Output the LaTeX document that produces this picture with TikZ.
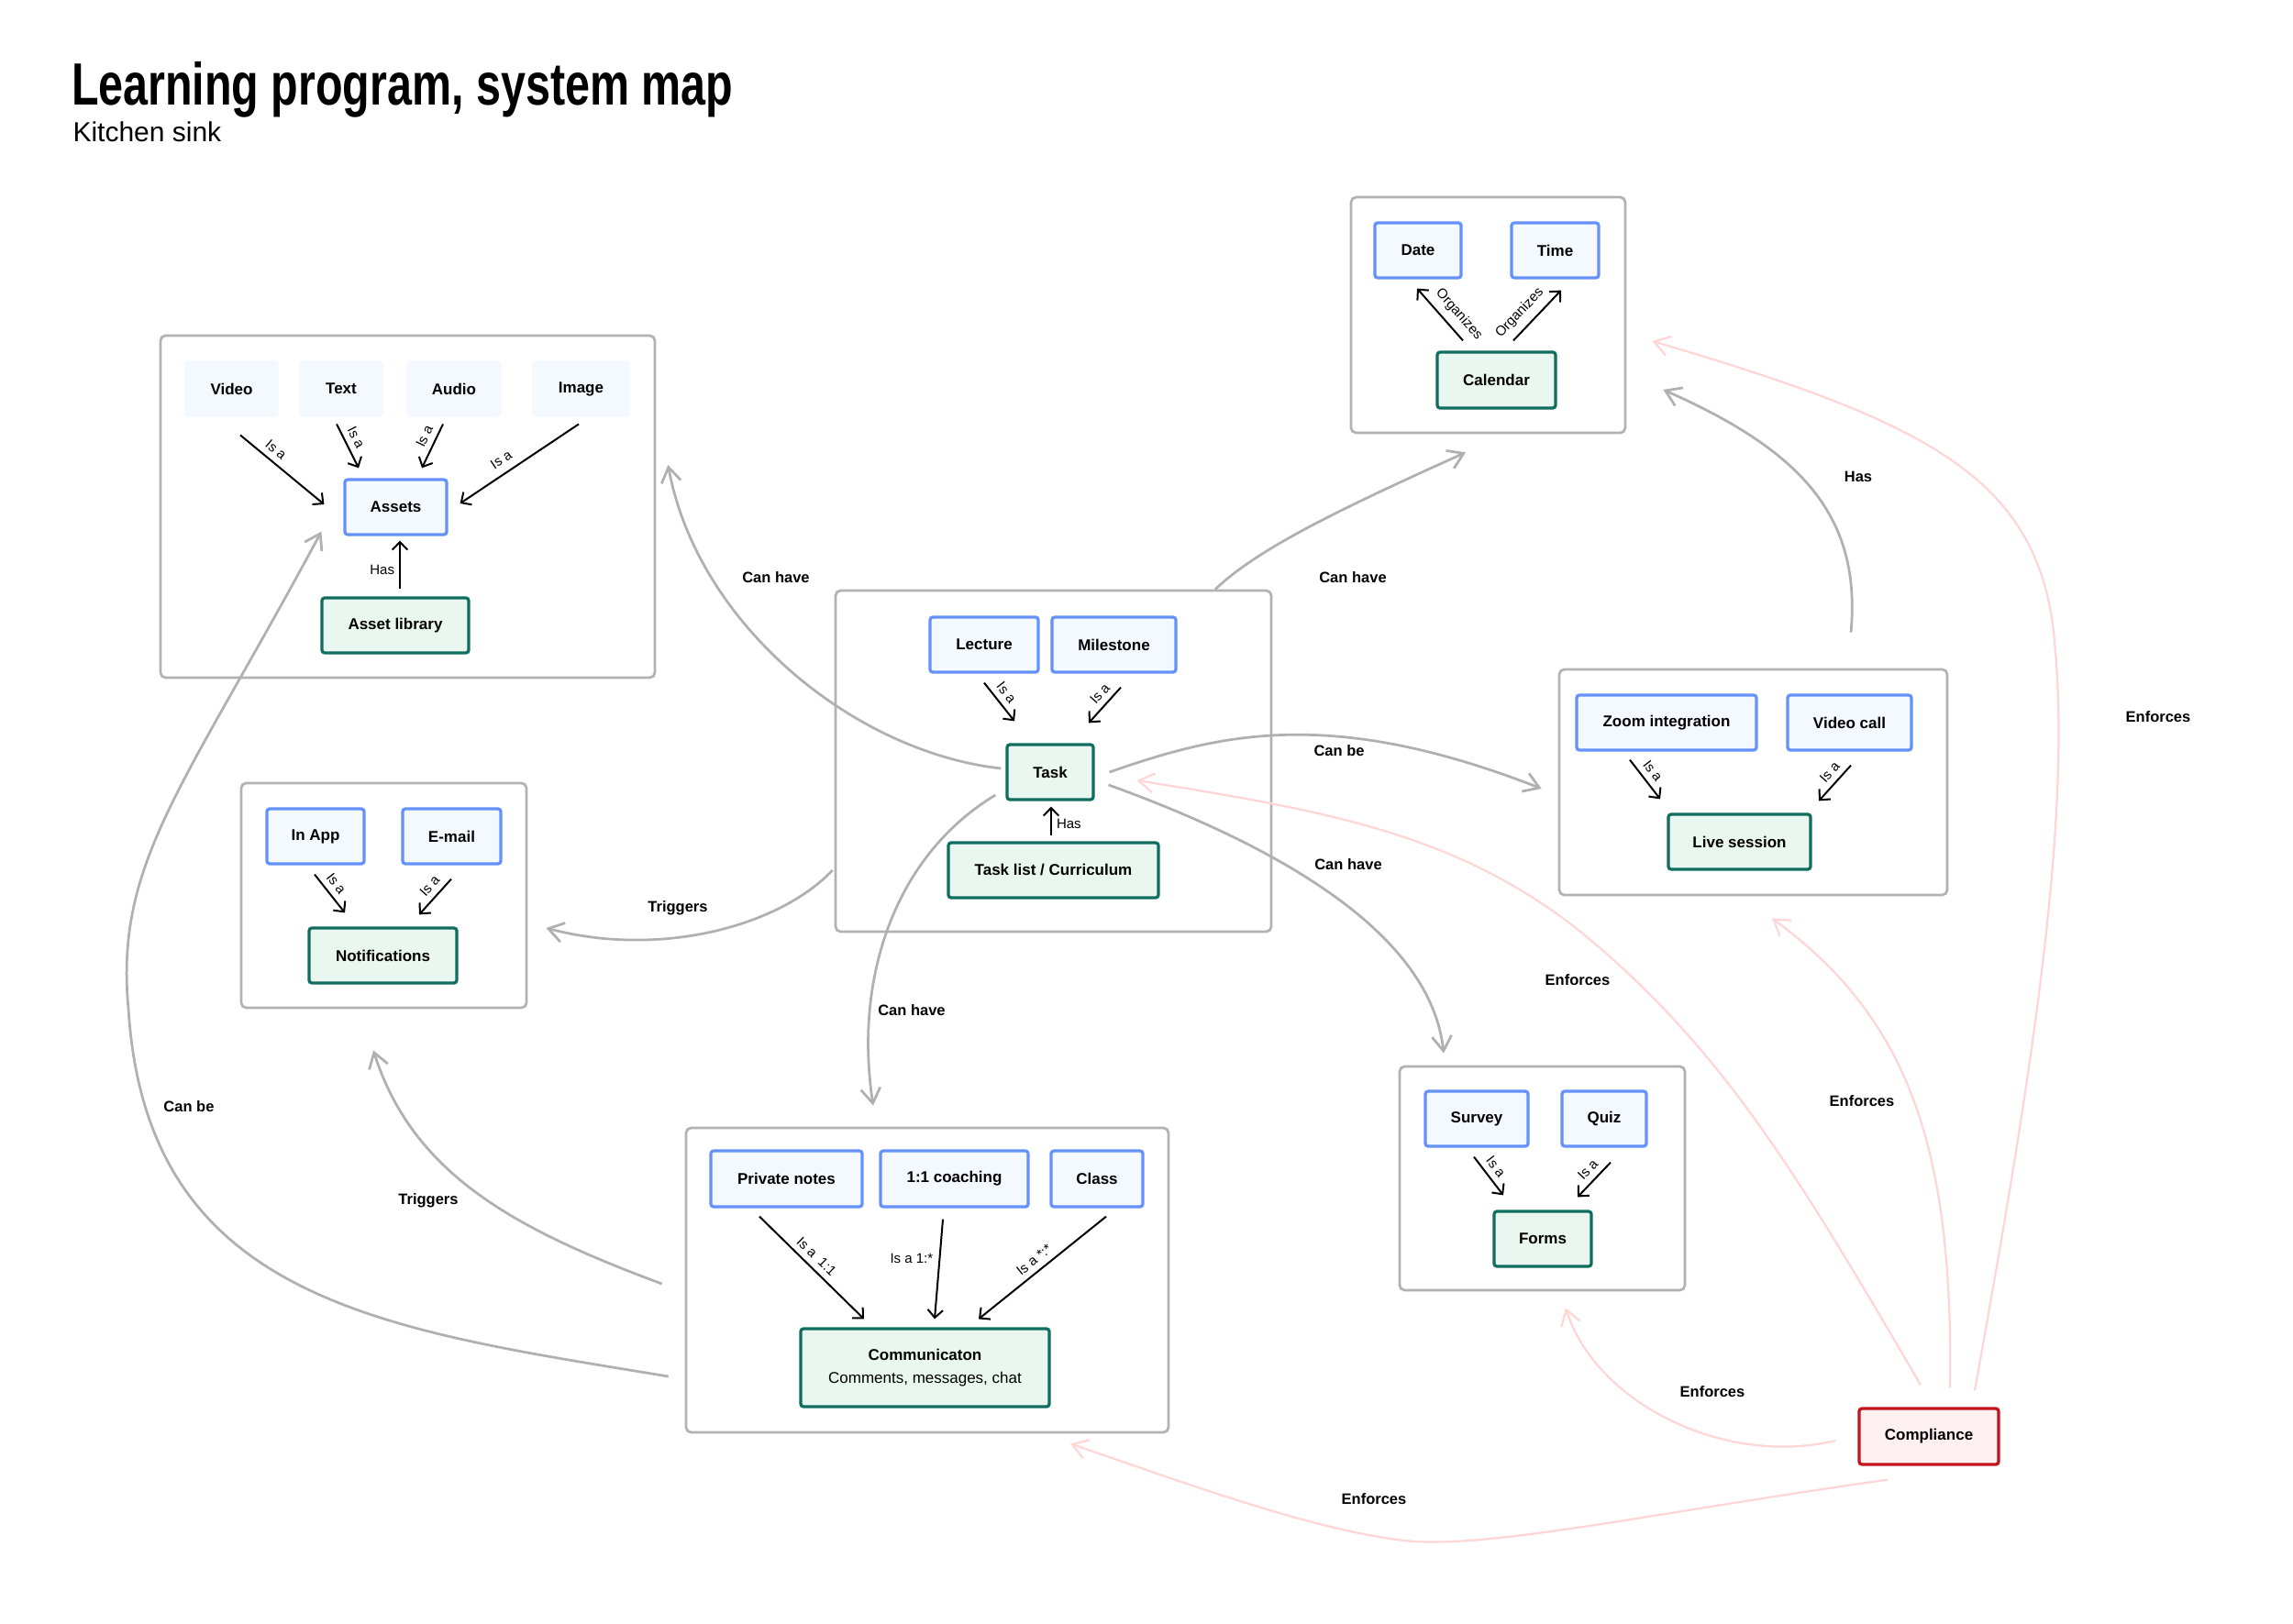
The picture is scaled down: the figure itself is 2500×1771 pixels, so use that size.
\documentclass[tikz,border=0pt]{standalone}
\usepackage{fontspec}
\setmainfont{Liberation Sans}
\newfontfamily\titlefont[FakeStretch=0.745]{Liberation Sans}
\usetikzlibrary{arrows.meta,calc}
\definecolor{grpc}{RGB}{178,178,178}
\definecolor{linec}{RGB}{176,176,176}
\definecolor{bluec}{RGB}{100,145,250}
\definecolor{bluef}{RGB}{244,248,255}
\definecolor{greenc}{RGB}{15,110,95}
\definecolor{greenf}{RGB}{233,247,240}
\definecolor{redc}{RGB}{195,20,30}
\definecolor{redf}{RGB}{255,241,241}
\definecolor{pinkc}{RGB}{255,214,214}
\tikzset{
  sz/.style 2 args={minimum width=#1*0.4pt, minimum height=#2*0.4pt},
  grp/.style={draw=grpc, line width=1.1pt, rounded corners=2.2pt, fill=white, inner sep=0pt},
  boxfont/.style={font=\bfseries\fontsize{6.8pt}{10pt}\selectfont},
  mbox/.style={fill=bluef, rounded corners=2pt, inner sep=0pt, boxfont},
  bbox/.style={draw=bluec, fill=bluef, line width=1.3pt, rounded corners=1.2pt, inner sep=0pt, boxfont},
  gbox/.style={draw=greenc, fill=greenf, line width=1.3pt, rounded corners=1.2pt, inner sep=0pt, boxfont},
  rbox/.style={draw=redc, fill=redf, line width=1.3pt, rounded corners=1.2pt, inner sep=0pt, boxfont},
  isa/.style={draw=black, line width=0.8pt, -{Straight Barb[length=3.4pt,width=6.6pt]}},
  lab/.style={font=\fontsize{6pt}{7pt}\selectfont, inner sep=1pt},
  conn/.style={draw=linec, line width=1.1pt, -{Straight Barb[length=6.5pt,width=8.5pt]}},
  enf/.style={draw=pinkc, line width=0.9pt, -{Straight Barb[length=6.5pt,width=8.5pt]}},
  clab/.style={font=\bfseries\fontsize{6.6pt}{8pt}\selectfont, inner sep=0pt},
}
\begin{document}
\begin{tikzpicture}[x=0.4pt,y=-0.4pt]
\useasboundingbox (0,0) rectangle (2500,1771);
\fill[white] (0,0) rectangle (2500,1771);

% titles
\node[anchor=base west, inner sep=0pt, font=\titlefont\bfseries\fontsize{26pt}{30pt}\selectfont] (title) at (77.5,115) {Learning program, system map};
\node[anchor=base west, inner sep=0pt, font=\fontsize{12pt}{14pt}\selectfont] (subtitle) at (79,155) {Kitchen sink};

% groups
\node[grp, sz={539}{373}] (gA) at (444.5,552.5) {};
\node[grp, sz={299}{257}] (gC) at (1622.5,343.5) {};
\node[grp, sz={475}{372}] (gT) at (1148.5,830) {};
\node[grp, sz={423}{246}] (gL) at (1911.5,853) {};
\node[grp, sz={311}{245}] (gN) at (418.5,976.5) {};
\node[grp, sz={526}{332}] (gM) at (1011,1396) {};
\node[grp, sz={311}{244}] (gF) at (1681.5,1285) {};

% assets group
\node[mbox, sz={103}{62}] (video) at (252.5,424) {Video};
\node[mbox, sz={92}{62}] (text) at (372,424) {Text};
\node[mbox, sz={104}{62}] (audio) at (495,424) {Audio};
\node[mbox, sz={107}{62}] (image) at (633.5,424) {Image};
\node[bbox, sz={111}{60}] (assets) at (431.5,553) {Assets};
\node[gbox, sz={160}{60}] (assetlib) at (431,682) {Asset library};

\draw[isa] ($(video.south)+(9.5,19)$) -- node[lab, above=1.5pt, sloped, pos=0.34] (l1) {Is a} ($(assets.west)+(-21,-3)$);
\draw[isa] ($(text.south)+(-5,7)$) -- node[lab, above=1.5pt, sloped, pos=0.42] (l2) {Is a} ($(assets.north)+(-40.5,-11)$);
\draw[isa] ($(audio.south)+(-12,7)$) -- node[lab, above=1.5pt, sloped, pos=0.39] (l3) {Is a} ($(assets.north)+(28.5,-11)$);
\draw[isa] ($(image.south)+(-2.5,7)$) -- node[lab, above=2.5pt, sloped, pos=0.59] (l4) {Is a} ($(assets.east)+(13,-4)$);
\draw[isa] ($(assetlib.north)+(5,-8)$) -- node[lab, left=1pt, pos=0.39] (l5) {Has} ($(assets.south)+(4.5,5)$);

% calendar group
\node[bbox, sz={94}{60}] (date) at (1546,273) {Date};
\node[bbox, sz={95}{60}] (time) at (1695.5,273) {Time};
\node[gbox, sz={129}{61}] (calendar) at (1631.5,414.5) {Calendar};
\draw[isa] ($(calendar.north)+(-36.5,-11)$) -- node[lab, above=2pt, sloped, pos=0.32] (l6) {Organizes} ($(date.south)+(-1,10)$);
\draw[isa] ($(calendar.north)+(18.5,-11)$) -- node[lab, above=2pt, sloped, pos=0.35] (l7) {Organizes} ($(time.south)+(6.5,12)$);

% task group
\node[bbox, sz={118}{60}] (lecture) at (1073,703) {Lecture};
\node[bbox, sz={135}{60}] (milestone) at (1214.5,703) {Milestone};
\node[gbox, sz={94}{60}] (task) at (1145,842) {Task};
\node[gbox, sz={229}{60}] (tasklist) at (1148.5,949) {Task list / Curriculum};
\draw[isa] ($(lecture.south)+(0,10)$) -- node[lab, above=1.5pt, sloped, pos=0.44] (l8) {Is a} ($(task.north)+(-39,-24)$);
\draw[isa] ($(milestone.south)+(7.5,15)$) -- node[lab, above=1.5pt, sloped, pos=0.39] (l9) {Is a} ($(task.north)+(42,-22)$);
\draw[isa] ($(tasklist.north)+(-2.5,-6)$) -- node[lab, right=1pt, pos=0.4] (l10) {Has} ($(task.south)+(1,6)$);

% live session group
\node[bbox, sz={196}{60}] (zoomint) at (1817,788) {Zoom integration};
\node[bbox, sz={135}{60}] (videocall) at (2016.5,788) {Video call};
\node[gbox, sz={155}{60}] (live) at (1896.5,918) {Live session};
\draw[isa] ($(zoomint.south)+(-40,9)$) -- node[lab, above=1.5pt, sloped, pos=0.46] (l11) {Is a} ($(live.north)+(-86.5,-15)$);
\draw[isa] ($(videocall.south)+(1.5,15)$) -- node[lab, above=1.5pt, sloped, pos=0.4] (l12) {Is a} ($(live.north)+(86.5,-13)$);

% notifications group
\node[bbox, sz={106}{60}] (inapp) at (344,912) {In App};
\node[bbox, sz={107}{60}] (email) at (492.5,912) {E-mail};
\node[gbox, sz={161}{60}] (notif) at (417.5,1042) {Notifications};
\draw[isa] ($(inapp.south)+(-1,10)$) -- node[lab, above=1.5pt, sloped, pos=0.42] (l13) {Is a} ($(notif.north)+(-41.5,-15)$);
\draw[isa] ($(email.south)+(-0.5,15)$) -- node[lab, above=1.5pt, sloped, pos=0.41] (l14) {Is a} ($(notif.north)+(39.5,-13)$);

% communication group
\node[bbox, sz={165}{61}] (pnotes) at (857.5,1285.5) {Private notes};
\node[bbox, sz={161}{61}] (coaching) at (1040.5,1285.5) {1:1 coaching};
\node[bbox, sz={100}{61}] (class) at (1196,1285.5) {Class};
\node[gbox, sz={271}{85}, align=center] (comm) at (1008.5,1491.5) {Communicaton\\{\mdseries Comments, messages, chat}};
\draw[isa] ($(pnotes.south)+(-29.5,9)$) -- node[lab, above=1.5pt, sloped, pos=0.47] (l15) {Is a\ \ 1:1} ($(comm.north)+(-66.5,-9)$);
\draw[isa] ($(coaching.south)+(-12.5,12)$) -- node[lab, left=1.5pt, pos=0.39] (l16) {Is a 1:*} ($(comm.north)+(10.5,-9)$);
\draw[isa] ($(class.south)+(10,9)$) -- node[lab, above=1.5pt, sloped, pos=0.51] (l17) {Is a *:*} ($(comm.north)+(58.5,-9)$);

% forms group
\node[bbox, sz={112}{60}] (survey) at (1610,1220) {Survey};
\node[bbox, sz={92}{60}] (quiz) at (1749,1220) {Quiz};
\node[gbox, sz={106}{60}] (forms) at (1682,1351) {Forms};
\draw[isa] ($(survey.south)+(-3,10)$) -- node[lab, above=1.5pt, sloped, pos=0.44] (l18) {Is a} ($(forms.north)+(-43,-16)$);
\draw[isa] ($(quiz.south)+(7,16)$) -- node[lab, above=1.5pt, sloped, pos=0.44] (l19) {Is a} ($(forms.north)+(38,-14)$);

% compliance
\node[rbox, sz={152}{61}] (comp) at (2103,1566.5) {Compliance};

% gray connectors
\draw[conn] ($(task.west)+(-5,-4)$) .. controls (930,820) and (760,680) .. ($(gA.east)+(13,-45.5)$);
\draw[conn] ($(gT.north)+(176.5,0)$) .. controls (1370,600) and (1450,560) .. ($(gC.south)+(-24.5,20)$);
\draw[conn] ($(task.east)+(16,0)$) .. controls (1330,800) and (1450,770) .. ($(gL.west)+(-18,7)$);
\draw[conn] ($(task.east)+(15,14)$) .. controls (1400,925) and (1560,1020) .. ($(gF.north)+(-107.5,-13)$);
\draw[conn] ($(gT.west)+(-2,119)$) .. controls (850,1010) and (720,1045) .. ($(gN.east)+(20,35.5)$);
\draw[conn] ($(task.west)+(-11,25)$) .. controls (980,930) and (930,1060) .. ($(gM.north)+(-59,-23)$);
\draw[conn] ($(gM.west)+(-25,4)$) .. controls (560,1340) and (450,1280) .. ($(gN.south)+(-11.5,45)$);
\draw[conn] ($(gM.west)+(-18,105)$) .. controls (420,1450) and (160,1420) .. (140,1100) .. controls (125,940) and (200,860) .. ($(assets.south west)+(-24,-5)$);
\draw[conn] ($(gL.north)+(106.5,-39)$) .. controls (2030,560) and (1960,490) .. ($(gC.east)+(40,81.5)$);

% gray connector labels
\node[clab] (c1) at (846,630) {Can have};
\node[clab] (c2) at (1475,630) {Can have};
\node[clab] (c3) at (1460,819) {Can be};
\node[clab] (c4) at (1470,943) {Can have};
\node[clab] (c5) at (739,990) {Triggers};
\node[clab] (c6) at (994,1102) {Can have};
\node[clab] (c7) at (467,1309) {Triggers};
\node[clab] (c8) at (206,1207) {Can be};
\node[clab] (c9) at (2026,520) {Has};

% pink connectors
\draw[enf] ($(comp.north)+(50,-18)$) .. controls (2210,1200) and (2260,900) .. (2240,700) .. controls (2225,520) and (2100,460) .. ($(gC.east)+(28,28.5)$);
\draw[enf] ($(comp.north)+(23,-21)$) .. controls (2130,1250) and (2080,1110) .. ($(gL.south)+(20.5,24)$);
\draw[enf] ($(comp.north)+(-9,-24)$) .. controls (1960,1280) and (1880,1150) .. (1740,1030) .. controls (1600,910) and (1450,885) .. ($(task.east)+(46,9)$);
\draw[enf] ($(comp.west)+(-24,4.5)$) .. controls (1880,1600) and (1740,1530) .. ($(gF.south)+(25.5,18)$);
\draw[enf] ($(comp.south)+(-45,15)$) .. controls (1800,1650) and (1620,1690) .. (1531,1680) .. controls (1430,1668) and (1300,1620) .. ($(gM.south)+(156,11)$);

\node[clab] (e1) at (2353,782) {Enforces};
\node[clab] (e2) at (2030,1201) {Enforces};
\node[clab] (e3) at (1720,1069) {Enforces};
\node[clab] (e4) at (1867,1518) {Enforces};
\node[clab] (e5) at (1498,1635) {Enforces};
\end{tikzpicture}
\end{document}
